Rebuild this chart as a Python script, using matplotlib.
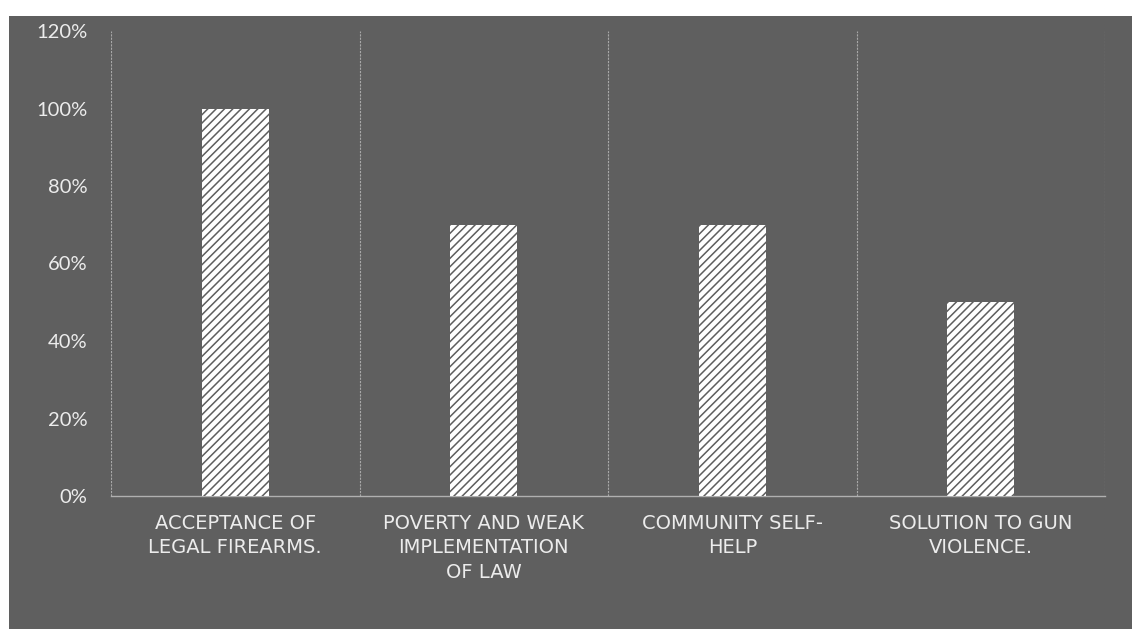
import matplotlib
matplotlib.use("Agg")
import matplotlib.pyplot as plt
from matplotlib.patches import Rectangle
from matplotlib.ticker import PercentFormatter, FixedLocator

# --- datos ---
categorias = [
    "ACCEPTANCE OF\nLEGAL FIREARMS.",
    "POVERTY AND WEAK\nIMPLEMENTATION\nOF LAW",
    "COMMUNITY SELF-\nHELP",
    "SOLUTION TO GUN\nVIOLENCE.",
]
valores = [1.00, 0.70, 0.70, 0.50]
yticks = [0, 0.2, 0.4, 0.6, 0.8, 1.0, 1.2]

fondo = "#5f5f5f"
texto = "#ececec"

plt.rcParams["hatch.linewidth"] = 1.1

fig = plt.figure(figsize=(11.32, 6.29), dpi=100, facecolor="white")
# bloque gris del fondo
fig.add_artist(Rectangle((9 / 1132, 0), 1 - 9 / 1132, 1 - 16 / 629,
                         transform=fig.transFigure, facecolor=fondo,
                         edgecolor="none", zorder=-10))

ax = fig.add_axes([111 / 1132, 1 - 496 / 629, (1105 - 111) / 1132, (496 - 31) / 629])
ax.set_facecolor("none")

x = range(len(categorias))
ax.bar(x, valores, width=0.27, color="white", edgecolor="#5e5e5e",
       linewidth=0, hatch="////", zorder=3)

ax.set_xlim(-0.5, len(categorias) - 0.5)
ax.set_ylim(0, 1.2)
ax.set_yticks(yticks)
ax.yaxis.set_major_formatter(PercentFormatter(1.0, decimals=0))

ax.set_xticks(list(x))
ax.set_xticklabels(categorias, fontsize=14, color=texto, linespacing=1.35,
                   family="DejaVu Sans")
ax.xaxis.set_minor_locator(FixedLocator([i - 0.5 for i in range(len(categorias) + 1)]))
ax.grid(which="minor", axis="x", color="#a8a8a8", linestyle=(0, (2, 1)),
        linewidth=0.8, zorder=1)

ax.tick_params(axis="both", which="both", length=0)
ax.tick_params(axis="x", pad=13)
ax.tick_params(axis="y", pad=17, labelsize=14.5, labelcolor=texto)
for lbl in ax.get_yticklabels():
    lbl.set_family("Lato")

for s in ["top", "right", "left"]:
    ax.spines[s].set_visible(False)
ax.spines["bottom"].set_color("#b0b0b0")
ax.spines["bottom"].set_linewidth(1)

fig.savefig("out.png", dpi=100, facecolor=fig.get_facecolor())
